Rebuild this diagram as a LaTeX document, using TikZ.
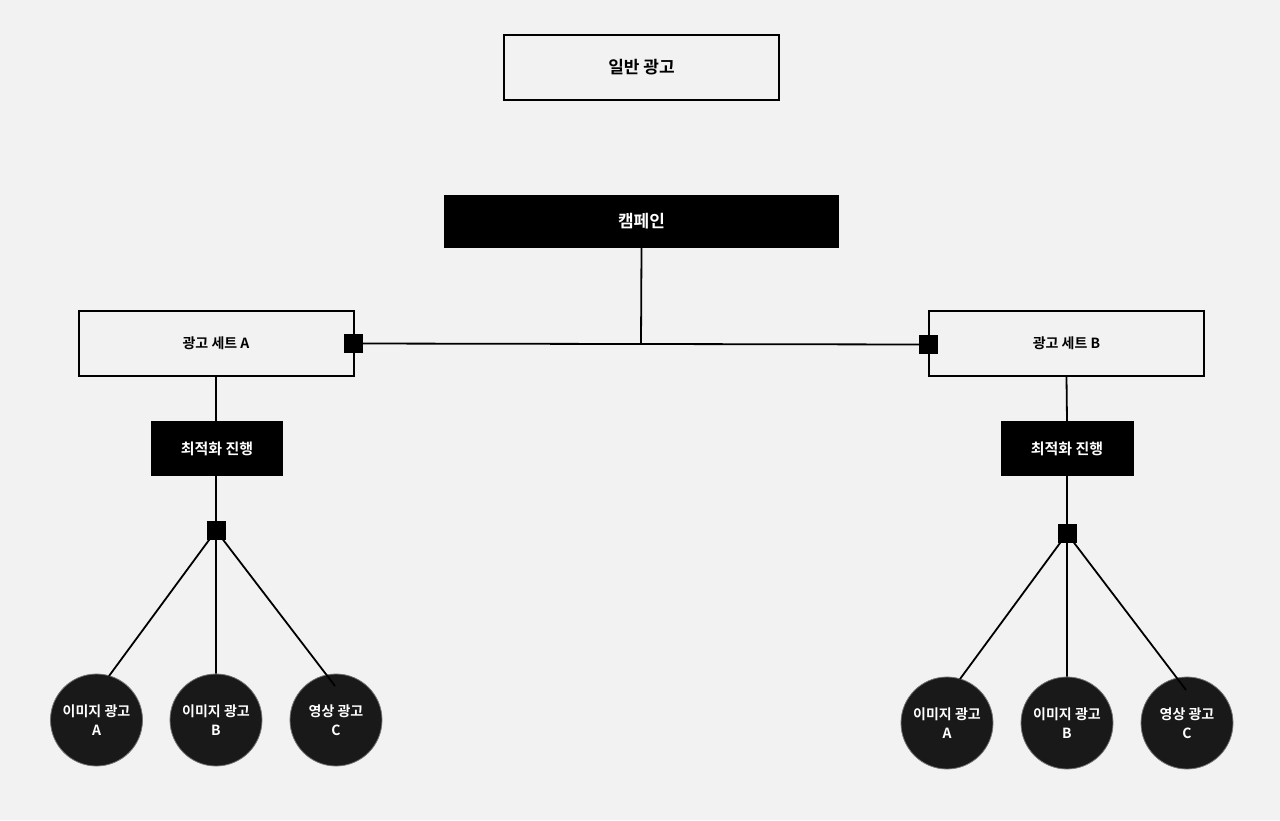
\documentclass[tikz,border=0pt]{standalone}
\usepackage{fontspec}
\setmainfont{Noto Sans CJK KR}[BoldFont={Noto Sans CJK KR Bold}]
\begin{document}
\begin{tikzpicture}[x=1pt,y=-1pt,
 wbox/.style={draw=black,line width=2pt,fill=white!95!black,inner sep=0pt,font=\bfseries\fontsize{14}{16}\selectfont},
 bbox/.style={fill=black,text=white,inner sep=0pt,font=\bfseries\fontsize{15}{17}\selectfont},
 sq/.style={fill=black,minimum size=19pt,inner sep=0pt},
 ad/.style={circle,fill=black!90,draw=black!55,line width=0.8pt,minimum size=92pt,inner sep=0pt,text=white,align=center,font=\bfseries\fontsize{14}{19}\selectfont},
 ln/.style={line width=1.8pt}]
\fill[black!5] (0,0) rectangle (1280,820);
\useasboundingbox (0,0) rectangle (1280,820);
\node[wbox,minimum width=275pt,minimum height=65pt,font=\bfseries\fontsize{17}{19}\selectfont] (t) at (641.5,67) {일반 광고};
\node[bbox,minimum width=395pt,minimum height=53pt,font=\bfseries\fontsize{17}{19}\selectfont] (c) at (641.5,221.5) {캠페인};
\node[wbox,minimum width=275pt,minimum height=65pt] (sa) at (216,343.5) {광고 세트 A};
\node[wbox,minimum width=275pt,minimum height=65pt] (sb) at (1066.5,343.5) {광고 세트 B};
\node[sq] (qa) at (353.5,343.5) {};
\node[sq] (qb) at (928.5,344.5) {};
\coordinate (j) at (641,344);
\draw[ln] (c.south) -- (j);
\draw[ln] (qa) -- (qb);
\node[bbox,minimum width=132pt,minimum height=55pt] (oa) at (217,448.5) {최적화 진행};
\node[bbox,minimum width=133pt,minimum height=55pt] (ob) at (1067,448.5) {최적화 진행};
\draw[ln] (216,376) -- (oa.north -| 216,0);
\draw[ln] (sb.south) -- (ob.north);
\node[sq] (pa) at (216,530.5) {};
\node[sq] (pb) at (1067,533.5) {};
\draw[ln] (oa.south -| pa) -- (pa);
\draw[ln] (ob.south -| pb) -- (pb);
\node[ad] (a1) at (96.5,720) {이미지 광고\\A};
\node[ad] (a2) at (216,720) {이미지 광고\\B};
\node[ad] (a3) at (336,720) {영상 광고\\C};
\node[ad] (b1) at (947,723) {이미지 광고\\A};
\node[ad] (b2) at (1067,723) {이미지 광고\\B};
\node[ad] (b3) at (1187,723) {영상 광고\\C};
\draw[ln] (pa.center) -- (109,676) (pa.center) -- (a2.north) (pa.center) -- (335,686);
\draw[ln] (pb.center) -- (960,679) (pb.center) -- (b2.north) (pb.center) -- (1186,690);
\end{tikzpicture}
\end{document}
